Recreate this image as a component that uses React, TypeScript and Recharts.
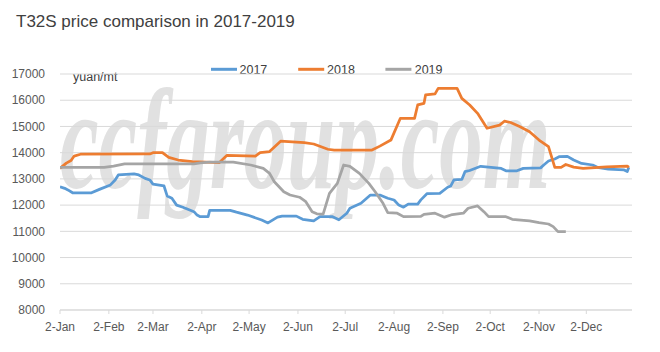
import React from 'react';
import { LineChart, Line, XAxis, YAxis, CartesianGrid } from 'recharts';

const seriesNames = ['2017', '2018', '2019'];
const seriesColors = ['#5B9BD5', '#ED7D31', '#A5A5A5'];

// day of year (1 Jan = 0)
const days2017 = [1, 4, 6, 9, 21, 26, 33, 36, 38, 48, 51, 55, 58, 60, 65, 67, 69, 72, 75, 79, 86, 88, 90, 95, 96, 109, 113, 120, 129, 133, 139, 142, 151, 155, 162, 166, 174, 178, 183, 185, 192, 198, 204, 209, 213, 216, 219, 222, 228, 230, 234, 242, 247, 249, 251, 256, 258, 261, 268, 281, 284, 291, 295, 306, 308, 311, 315, 318, 323, 327, 332, 339, 342, 349, 359, 361, 362];
const values2017 = [12700, 12640, 12580, 12470, 12470, 12600, 12770, 12960, 13150, 13190, 13150, 13020, 12960, 12800, 12750, 12730, 12350, 12260, 12000, 11920, 11750, 11620, 11560, 11560, 11800, 11800, 11730, 11620, 11430, 11320, 11540, 11580, 11580, 11460, 11400, 11560, 11560, 11440, 11690, 11880, 12070, 12385, 12385, 12260, 12195, 12000, 11920, 12040, 12040, 12200, 12440, 12450, 12680, 12730, 12960, 12980, 13275, 13320, 13480, 13400, 13310, 13310, 13400, 13420, 13530, 13680, 13760, 13850, 13860, 13720, 13590, 13530, 13440, 13370, 13340, 13280, 13440];

const days2018 = [1, 5, 8, 10, 14, 58, 60, 66, 70, 76, 85, 102, 107, 125, 128, 134, 141, 156, 162, 171, 175, 199, 204, 211, 217, 226, 228, 232, 233, 239, 241, 253, 256, 261, 266, 272, 280, 283, 287, 293, 299, 305, 311, 315, 319, 322, 327, 333, 348, 361, 362];
const values2018 = [13400, 13600, 13700, 13870, 13940, 13950, 14000, 14000, 13820, 13720, 13660, 13620, 13900, 13870, 14000, 14040, 14440, 14380, 14330, 14130, 14100, 14100, 14250, 14480, 15310, 15310, 15820, 15880, 16200, 16240, 16450, 16450, 16070, 15820, 15500, 14930, 15050, 15200, 15150, 14990, 14800, 14480, 14230, 13440, 13440, 13550, 13450, 13400, 13460, 13490, 13440];

const days2019 = [1, 29, 35, 42, 86, 90, 96, 111, 122, 130, 134, 137, 143, 147, 153, 157, 161, 164, 168, 172, 177, 181, 185, 191, 197, 201, 206, 209, 215, 219, 230, 232, 239, 245, 250, 257, 260, 266, 270, 273, 284, 288, 299, 305, 311, 314, 317, 322];
const values2019 = [13440, 13440, 13490, 13570, 13570, 13610, 13640, 13640, 13530, 13400, 13210, 12890, 12510, 12385, 12300, 12130, 11750, 11670, 11660, 12450, 12830, 13530, 13480, 13210, 12830, 12510, 12070, 11710, 11690, 11560, 11570, 11650, 11690, 11540, 11640, 11690, 11880, 11970, 11750, 11560, 11560, 11460, 11400, 11330, 11280, 11180, 10990, 10990];

const tickDays = [1, 32, 60, 91, 121, 152, 182, 213, 244, 274, 305, 335];
const tickLabels = ['2-Jan', '2-Feb', '2-Mar', '2-Apr', '2-May', '2-Jun', '2-Jul', '2-Aug', '2-Sep', '2-Oct', '2-Nov', '2-Dec'];
const yTicks = [8000, 9000, 10000, 11000, 12000, 13000, 14000, 15000, 16000, 17000];

const titleText = 'T32S price comparison in 2017-2019';
const unitText = 'yuan/mt';
const watermarkText = 'ccfgroup.com';

const toPoints = (days: number[], values: number[]) => days.map((d, i) => ({ day: d, value: values[i] }));
const seriesData = [toPoints(days2017, values2017), toPoints(days2018, values2018), toPoints(days2019, values2019)];

const FONT = '"Liberation Sans", Arial, sans-serif';

export default function App() {
  return (
    <div style={{ position: 'absolute', left: 0, top: 0, width: 660, height: 352, background: '#fff', fontFamily: FONT }}>
      <svg width={660} height={352} style={{ position: 'absolute', left: 0, top: 0 }}>
        <g transform="translate(60,188) scale(0.6,1)">
          <text
            x={0}
            y={0}
            fontFamily='"Liberation Serif", "DejaVu Serif", serif'
            fontStyle="italic"
            fontWeight="bold"
            fontSize={145}
            fill="#e1e1e1"
          >
            {watermarkText}
          </text>
        </g>
        <text x={16} y={27} fontFamily={FONT} fontSize={17} fill="#404040">{titleText}</text>
        <text x={73} y={81} fontFamily={FONT} fontSize={12.5} fill="#404040">{unitText}</text>
        {seriesNames.map((n, i) => (
          <g key={n}>
            <line x1={211 + i * 87.2} x2={237 + i * 87.2} y1={69.3} y2={69.3} stroke={seriesColors[i]} strokeWidth={3} />
            <text x={239.5 + i * 87.6} y={74} fontFamily={FONT} fontSize={12.5} fill="#404040">{n}</text>
          </g>
        ))}
      </svg>
      <div style={{ position: 'absolute', left: 0, top: 0 }}>
        <LineChart width={660} height={352} margin={{ top: 74, right: 28, bottom: 12, left: 0 }}>
          <CartesianGrid vertical={false} stroke="#d9d9d9" />
          <XAxis
            dataKey="day"
            type="number"
            domain={[1, 364]}
            ticks={tickDays}
            interval={0}
            tickFormatter={(v: number) => tickLabels[tickDays.indexOf(v)]}
            axisLine={{ stroke: '#d9d9d9' }}
            tickLine={{ stroke: '#d9d9d9' }}
            tickSize={4}
            tickMargin={8}
            height={30}
            tick={{ fill: '#595959', fontSize: 12, fontFamily: FONT }}
            allowDataOverflow
          />
          <YAxis
            type="number"
            domain={[8000, 17000]}
            ticks={yTicks}
            interval={0}
            axisLine={false}
            tickLine={false}
            tickMargin={9}
            width={60}
            tick={{ fill: '#595959', fontSize: 12, fontFamily: FONT }}
            allowDataOverflow
          />
          {seriesNames.map((n, i) => (
            <Line
              key={n}
              data={seriesData[i]}
              dataKey="value"
              name={n}
              type="linear"
              stroke={seriesColors[i]}
              strokeWidth={2.75}
              strokeLinejoin="round"
              dot={false}
              activeDot={false}
              isAnimationActive={false}
            />
          ))}
        </LineChart>
      </div>
    </div>
  );
}
